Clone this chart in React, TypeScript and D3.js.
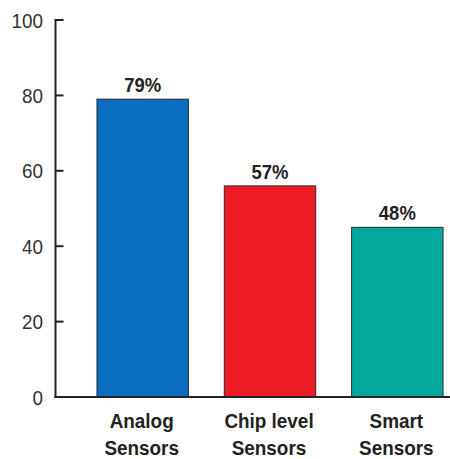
import React from "react";
import * as d3 from "d3";

const categories: string[][] = [["Analog", "Sensors"], ["Chip level", "Sensors"], ["Smart", "Sensors"]];
const values: number[] = [79, 56, 45];
const valueLabels: string[] = ["79%", "57%", "48%"];
const colors: string[] = ["#0b6dbf", "#ed1c24", "#05a89d"];
const yTicks: number[] = [0, 20, 40, 60, 80, 100];

const font = "'Liberation Sans', Arial, sans-serif";

function NText(props: {
  x: number;
  y: number;
  sx: number;
  size: number;
  bold?: boolean;
  anchor: "start" | "middle" | "end";
  fill: string;
  dy?: string;
  children: React.ReactNode;
}) {
  return (
    <text
      transform={`translate(${props.x},${props.y}) scale(${props.sx},1)`}
      dy={props.dy}
      textAnchor={props.anchor}
      fontFamily={font}
      fontWeight={props.bold ? "bold" : "normal"}
      fontSize={props.size}
      fill={props.fill}
    >
      {props.children}
    </text>
  );
}

export default function App() {
  const W = 450, H = 459;
  const axisX = 55.5;
  const y = d3.scaleLinear().domain([0, 100]).range([397, 20]);
  const x = d3
    .scaleBand<number>()
    .domain(d3.range(values.length))
    .range([79, 461])
    .paddingInner(0.282)
    .paddingOuter(0.141);
  return (
    <svg width={W} height={H} style={{ position: "absolute", left: 0, top: 0, background: "#fff" }}>
      {values.map((v, i) => (
        <g key={i}>
          <rect
            x={x(i)!}
            y={y(v)}
            width={x.bandwidth()}
            height={y(0) - y(v)}
            fill={colors[i]}
            stroke="#2a2a2a"
            strokeWidth={1}
          />
          <NText
            x={x(i)! + x.bandwidth() / 2}
            y={y(v) - 7}
            sx={0.88}
            size={21}
            bold
            anchor="middle"
            fill="#222"
          >
            {valueLabels[i]}
          </NText>
          {categories[i].map((line, j) => (
            <NText
              key={j}
              x={x(i)! + x.bandwidth() / 2 - 1}
              y={428 + j * 27}
              sx={0.9}
              size={21}
              bold
              anchor="middle"
              fill="#222"
            >
              {line}
            </NText>
          ))}
        </g>
      ))}
      <line x1={axisX} x2={axisX} y1={y(100) - 1} y2={y(0) + 1} stroke="#222" strokeWidth={2} />
      <line x1={axisX - 1} x2={W} y1={y(0)} y2={y(0)} stroke="#222" strokeWidth={2} />
      {yTicks.map((t) => (
        <g key={t}>
          <line x1={axisX} x2={axisX + 8} y1={y(t)} y2={y(t)} stroke="#222" strokeWidth={2} />
          <NText x={43} y={y(t)} dy="0.36em" sx={0.9} size={21} anchor="end" fill="#333">
            {t}
          </NText>
        </g>
      ))}
    </svg>
  );
}
